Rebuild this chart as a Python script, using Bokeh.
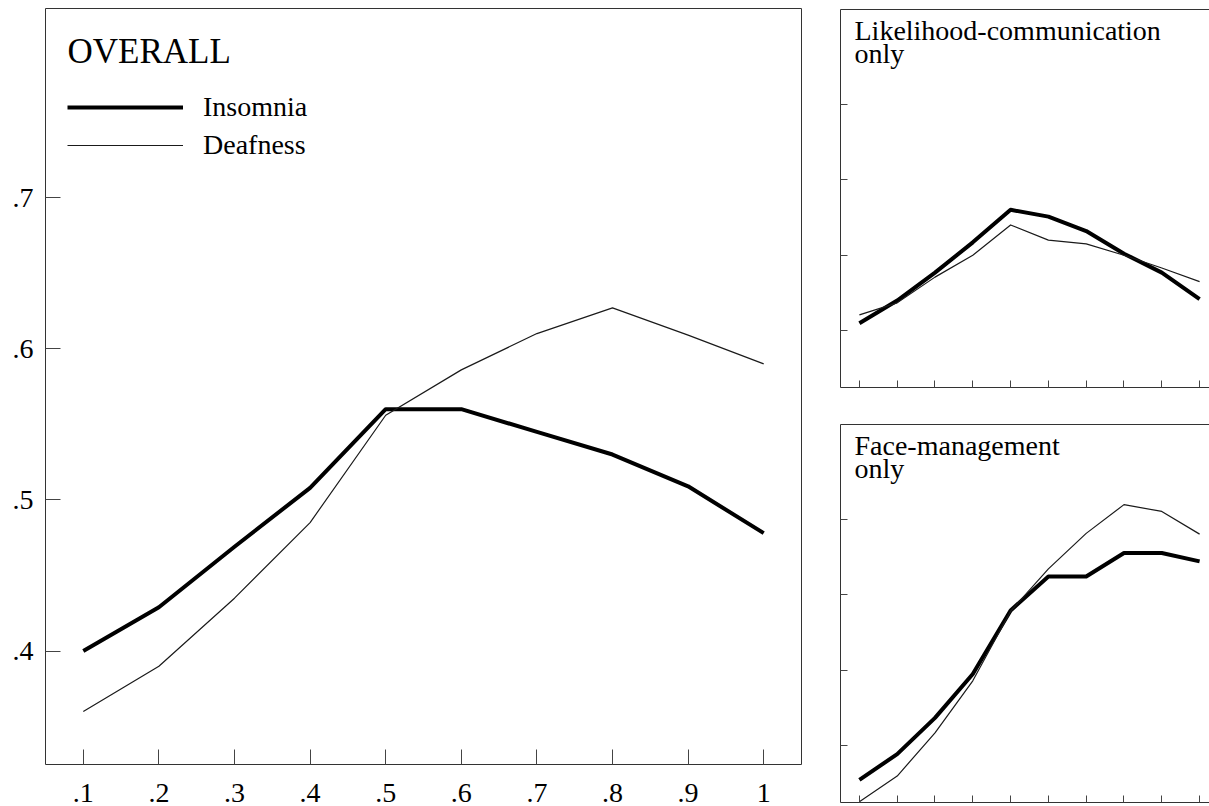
from bokeh.plotting import figure
from bokeh.models import (Range1d, FixedTicker, CustomJSTickFormatter, LinearAxis,
                          Label, Legend, LegendItem, Row, Column)
from bokeh.embed import file_html
from bokeh.resources import INLINE

# ---------------- data ----------------
x_vals = [0.1, 0.2, 0.3, 0.4, 0.5, 0.6, 0.7, 0.8, 0.9, 1.0]
x_ticks = [0.1, 0.2, 0.3, 0.4, 0.5, 0.6, 0.7, 0.8, 0.9, 1.0]
y_ticks = [0.4, 0.5, 0.6, 0.7]

overall_insomnia = [0.400, 0.429, 0.469, 0.508, 0.560, 0.560, 0.545, 0.530, 0.509, 0.478]
overall_deafness = [0.360, 0.390, 0.435, 0.485, 0.556, 0.586, 0.610, 0.627, 0.609, 0.590]

likelihood_insomnia = [0.410, 0.440, 0.477, 0.517, 0.560, 0.551, 0.532, 0.502, 0.477, 0.442]
likelihood_deafness = [0.421, 0.437, 0.471, 0.500, 0.540, 0.520, 0.515, 0.500, 0.483, 0.465]

face_insomnia = [0.355, 0.389, 0.437, 0.495, 0.579, 0.624, 0.624, 0.655, 0.655, 0.644]
face_deafness = [0.326, 0.360, 0.417, 0.486, 0.578, 0.634, 0.681, 0.719, 0.710, 0.680]

series_names = ["Insomnia", "Deafness"]
panel_title = "OVERALL"
small_titles = [("Likelihood-communication", "only"), ("Face-management", "only")]

# ---------------- styling ----------------
FONT = "Liberation Serif"
LINE_COL = "#333333"
TICK_COL = "#444444"
THICK = 4
THIN = 1.2

fmt = CustomJSTickFormatter(code="""
const s = (Math.round(tick*10)/10).toString();
return s.replace(/^0\\./, '.');
""")
blank = CustomJSTickFormatter(code="return '';")


def style_axis(ax, ticks, tick_len, labels, standoff=12):
    ax.ticker = FixedTicker(ticks=ticks)
    ax.major_tick_in = tick_len
    ax.major_tick_out = 0
    ax.minor_tick_line_color = None
    ax.major_tick_line_color = TICK_COL
    ax.major_tick_line_width = 1
    if labels:
        ax.formatter = fmt
        ax.major_label_text_font = FONT
        ax.major_label_text_font_size = "28px"
        ax.major_label_text_color = "black"
        ax.major_label_standoff = standoff
    else:
        ax.formatter = blank
        ax.major_label_text_font_size = "1px"
        ax.major_label_standoff = 0


# ---------------- main panel ----------------
main = figure(width=803, height=814,
              x_range=Range1d(0.05, 1.05), y_range=Range1d(0.325, 0.825),
              output_backend="svg", toolbar_location=None,
              min_border_left=45, min_border_right=2,
              min_border_top=8, min_border_bottom=50)
main.grid.visible = False
main.outline_line_color = LINE_COL
main.outline_line_width = 1
main.background_fill_color = "white"
main.border_fill_color = "white"
style_axis(main.xaxis[0], x_ticks, 15, True, standoff=19)
style_axis(main.yaxis[0], y_ticks, 15, True, standoff=12)
main.xaxis[0].axis_line_color = None
main.yaxis[0].axis_line_color = None

r_ins = main.line(x_vals, overall_insomnia, line_width=THICK, line_color="black",
                  line_join="round")
r_dea = main.line(x_vals, overall_deafness, line_width=THIN, line_color="#1a1a1a",
                  line_join="round")

legend = Legend(items=[LegendItem(label=series_names[0], renderers=[r_ins]),
                       LegendItem(label=series_names[1], renderers=[r_dea])],
                location=(22, 600), padding=0, margin=0, spacing=0,
                glyph_width=116, glyph_height=38, label_height=38,
                label_standoff=20, label_text_font=FONT,
                label_text_font_size="28px", label_text_color="black",
                border_line_color=None, background_fill_alpha=0)
main.add_layout(legend)

main.add_layout(Label(x=22, y=713, x_units="screen", y_units="screen",
                      text=panel_title, text_font=FONT, text_font_size="35px",
                      text_color="black", text_baseline="middle",
                      text_align="left"))


# ---------------- small panels ----------------
def make_small(title_lines, ins, dea, top_b, bottom_b):
    p = figure(width=406, height=top_b + 378 + bottom_b,
               x_range=Range1d(0.05, 1.0262), y_range=Range1d(0.325, 0.825),
               output_backend="svg", toolbar_location=None,
               min_border_left=37, min_border_right=0,
               min_border_top=top_b, min_border_bottom=bottom_b)
    p.grid.visible = False
    p.outline_line_color = None
    p.background_fill_color = "white"
    p.border_fill_color = "white"
    style_axis(p.xaxis[0], x_ticks, 7, False)
    style_axis(p.yaxis[0], y_ticks, 7, False)
    p.xaxis[0].axis_line_color = LINE_COL
    p.yaxis[0].axis_line_color = LINE_COL
    top_axis = LinearAxis()
    style_axis(top_axis, [], 0, False)
    top_axis.axis_line_color = LINE_COL
    p.add_layout(top_axis, "above")

    p.line(x_vals, ins, line_width=THICK, line_color="black", line_join="round")
    p.line(x_vals, dea, line_width=THIN, line_color="#1a1a1a", line_join="round")

    p.add_layout(Label(x=14, y=357, x_units="screen", y_units="screen",
                       text=title_lines[0], text_font=FONT, text_font_size="28px",
                       text_color="black", text_baseline="middle"))
    p.add_layout(Label(x=14, y=334.5, x_units="screen", y_units="screen",
                       text=title_lines[1], text_font=FONT, text_font_size="28px",
                       text_color="black", text_baseline="middle"))
    return p


top_small = make_small(small_titles[0], likelihood_insomnia, likelihood_deafness, 9, 18)
bottom_small = make_small(small_titles[1], face_insomnia, face_deafness, 19, 4)

right_col = Column(children=[top_small, bottom_small], spacing=0)
layout = Row(children=[main, right_col], spacing=0,
             styles={"overflow": "hidden", "max-height": "806px"})

open("out.html", "w").write(file_html(layout, INLINE))
